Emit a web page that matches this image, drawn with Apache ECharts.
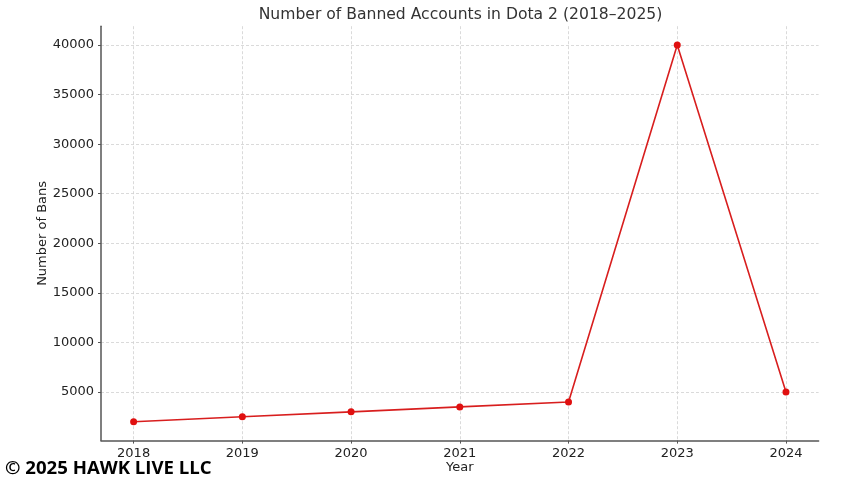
<!DOCTYPE html>
<html>
<head>
<meta charset="utf-8">
<script src="https://cdn.jsdelivr.net/npm/echarts@6/dist/echarts.min.js"></script>
<style>
html,body{margin:0;padding:0;background:#fff;}
#chart{width:854px;height:480px;}
</style>
</head>
<body>
<div id="chart"></div>
<script>
const years = [2018, 2019, 2020, 2021, 2022, 2023, 2024];
const bans = [2000, 2500, 3000, 3500, 4000, 40000, 5000];
const yTicks = [5000, 10000, 15000, 20000, 25000, 30000, 35000, 40000];
const titleText = 'Number of Banned Accounts in Dota 2 (2018\u20132025)';
const xName = 'Year';
const yName = 'Number of Bans';
const watermark = '\u00a9 2025 HAWK LIVE LLC';

const font = 'DejaVu Sans';
const chart = echarts.init(document.getElementById('chart'), null, {renderer: 'canvas'});
const gridStyle = {show: true, lineStyle: {color: '#d0d0d0', type: [3, 2], width: 0.8}};
chart.setOption({
  animation: false,
  backgroundColor: '#ffffff',
  title: {
    text: titleText,
    left: 455.5, textAlign: 'center', top: 2,
    textStyle: {fontFamily: font, fontSize: 15.6, fontWeight: 'normal', color: '#333333'}
  },
  grid: {left: 101, right: 35.4, top: 26.2, bottom: 39.4, containLabel: false, outerBoundsMode: 'none'},
  xAxis: {
    type: 'value', min: 2017.7, max: 2024.3,
    name: xName, nameLocation: 'middle', nameGap: 21, nameMoveOverlap: false,
    nameTextStyle: {fontFamily: font, fontSize: 13, color: '#222222', verticalAlign: 'top'},
    axisLine: {show: true, onZero: false, lineStyle: {color: '#555555', width: 1.5}},
    axisTick: {show: true, customValues: years, length: 3, lineStyle: {color: '#555555'}},
    axisLabel: {customValues: years, fontFamily: font, fontSize: 13, color: '#222222', margin: 7,
      formatter: v => String(Math.round(v))},
    splitLine: gridStyle
  },
  yAxis: {
    type: 'value', min: 100, max: 41900,
    name: yName, nameLocation: 'middle', nameGap: 52, nameRotate: 90, nameMoveOverlap: false,
    nameTextStyle: {fontFamily: font, fontSize: 13, color: '#222222'},
    axisLine: {show: true, lineStyle: {color: '#555555', width: 1.5}},
    axisTick: {show: true, customValues: yTicks, length: 3, lineStyle: {color: '#555555'}},
    axisLabel: {customValues: yTicks, fontFamily: font, fontSize: 13, color: '#222222', margin: 7,
      formatter: v => String(v)},
    splitLine: gridStyle
  },
  graphic: [{
    type: 'text', left: 5, top: 459,
    style: {text: watermark, fontFamily: 'Open Sans', fontWeight: 'bold', fontSize: 18.6, fill: '#000000'}
  }],
  series: [{
    type: 'line',
    data: years.map((y, i) => [y, bans[i]]),
    symbol: 'circle', symbolSize: 7,
    lineStyle: {color: '#d81e1e', width: 1.6},
    itemStyle: {color: '#e01010'}
  }]
});
</script>
</body>
</html>
